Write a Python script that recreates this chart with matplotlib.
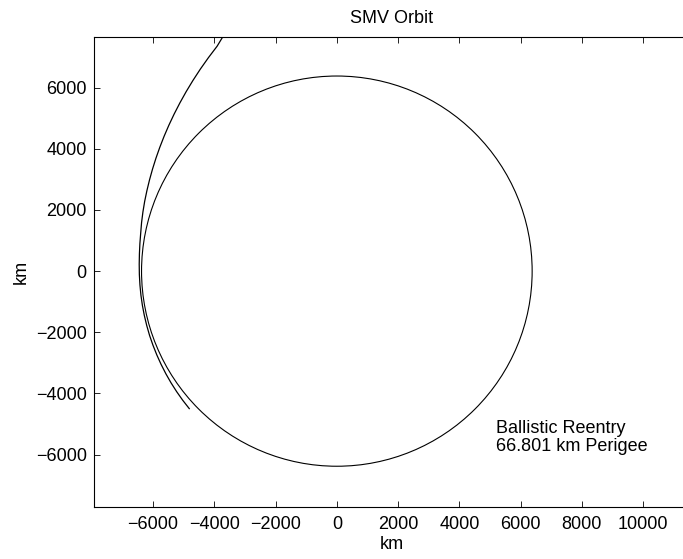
import numpy as np
import matplotlib
matplotlib.use("Agg")
import matplotlib.pyplot as plt
from matplotlib.patches import Circle

# Earth radius (km)
earth_radius = 6378

# SMV trajectory as (angle from +x axis in deg, radius in km)
traj_angle = [115.8, 118, 121, 124, 127, 130, 133, 136, 139, 142, 145, 148,
              151, 154, 157, 160, 163, 166, 169, 172, 175, 178, 181, 184,
              187, 190, 193, 196, 199, 202, 205, 208, 211, 214, 217, 220, 223]
traj_radius = [8530, 8328, 8142, 7969, 7807, 7657, 7517, 7388, 7269, 7159,
               7058, 6966, 6882, 6806, 6738, 6678, 6622, 6572, 6525, 6495,
               6472, 6458, 6450, 6446, 6446, 6448, 6452, 6458, 6467, 6475,
               6486, 6499, 6514, 6531, 6549, 6569, 6590]

x_ticks = [-6000, -4000, -2000, 0, 2000, 4000, 6000, 8000, 10000]
y_ticks = [-6000, -4000, -2000, 0, 2000, 4000, 6000]
note = "Ballistic Reentry\n66.801 km Perigee"

plt.rcParams['font.family'] = ['Liberation Sans', 'DejaVu Sans']
plt.rcParams['font.size'] = 13

th = np.radians(traj_angle)
traj_x = np.array(traj_radius) * np.cos(th)
traj_y = np.array(traj_radius) * np.sin(th)

fig = plt.figure(figsize=(6.83, 5.59), dpi=100)
ax = fig.add_axes([0.1372, 0.0936, 0.8731, 0.8411])

ax.add_patch(Circle((0, 0), earth_radius, fill=False, ec='black', lw=0.8))
ax.plot(traj_x, traj_y, color='black', lw=0.9)

ax.set_xlim(-7940, 11534)
ax.set_ylim(-7700, 7670)
ax.set_xticks(x_ticks)
ax.set_yticks(y_ticks)
ax.tick_params(direction='in', length=4, width=0.6, top=True, right=True,
               labelsize=13)
ax.tick_params(axis='x', pad=7)
ax.tick_params(axis='y', pad=5)
for s in ax.spines.values():
    s.set_linewidth(0.8)

ax.set_title("SMV Orbit", fontsize=13, pad=10)
ax.set_xlabel("km", fontsize=13, labelpad=2)
ax.set_ylabel("km", fontsize=13, labelpad=4)

ax.text(5200, -5450, note, fontsize=13, va='center', ha='left',
        linespacing=1.1)

fig.savefig("out.png", dpi=100)
